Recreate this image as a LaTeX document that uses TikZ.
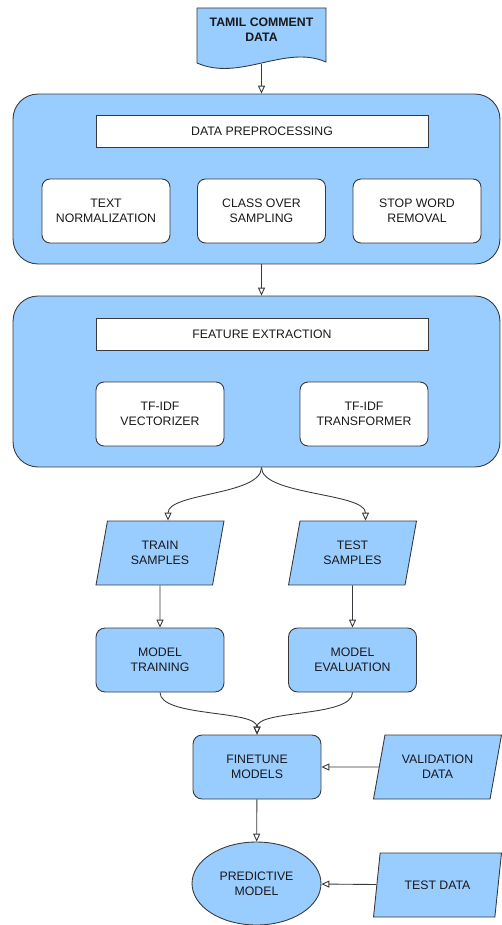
\documentclass[tikz,border=0pt]{standalone}
\usepackage{fontspec}
\setmainfont{Liberation Sans}
\usetikzlibrary{arrows.meta}
\usetikzlibrary{shapes.geometric}
\usetikzlibrary{calc}

\definecolor{boxblue}{HTML}{99CCFF}
\definecolor{boxline}{HTML}{36393D}

\begin{document}
\begin{tikzpicture}[>={Triangle[open,length=4.5pt,width=4pt]}, x=0.02cm, y=-0.02cm, line width=0.5pt,
    every node/.style = {font=\fontsize{7}{8.5}\selectfont, align=center, text=black!90},
    container/.style = {draw=boxline, fill=boxblue, rounded corners=0.5cm, minimum width=9.74cm, minimum height=3.4cm},
    titlebar/.style = {draw=boxline, fill=white, minimum width=6.64cm, minimum height=0.64cm},
    stepbox/.style = {draw=boxline, fill=white, rounded corners=0.16cm, minimum width=2.56cm, minimum height=1.28cm},
    process/.style = {draw=boxline, fill=boxblue, rounded corners=0.18cm, minimum width=2.56cm, minimum height=1.28cm},
    dataio/.style = {draw=boxline, fill=boxblue, trapezium, trapezium left angle=72, trapezium right angle=108,
        trapezium stretches body, minimum width=2.56cm, minimum height=1.28cm, inner xsep=0pt},
    flow/.style = {->, draw=boxline}]

    \useasboundingbox (0,0) rectangle (501,925);

    % input document
    \draw[draw=boxline, fill=boxblue] (197,8) -- (326,8) -- (326,62) .. controls (285,44) and (240,82) .. (197,63) -- cycle;
    \node[font=\fontsize{7}{8.5}\selectfont\bfseries] (doc) at (261.5,30) {TAMIL COMMENT\\DATA};
    \coordinate (docout) at (261.5,64);

    \node[container] (prep) at (256.5,179) {};
    \node[titlebar] (prept) at (262,131) {DATA PREPROCESSING};
    \node[stepbox] (norm) at (106,211) {TEXT\\NORMALIZATION};
    \node[stepbox] (samp) at (261.5,211) {CLASS OVER\\SAMPLING};
    \node[stepbox] (stop) at (417,211) {STOP WORD\\REMOVAL};

    \node[container, minimum height=3.42cm] (feat) at (256.5,381.5) {};
    \node[titlebar] (featt) at (262,334) {FEATURE EXTRACTION};
    \node[stepbox] (vect) at (160,414) {TF-IDF\\VECTORIZER};
    \node[stepbox] (trans) at (364,414) {TF-IDF\\TRANSFORMER};

    \node[dataio] (train) at (160,553) {TRAIN\\SAMPLES};
    \node[dataio] (test) at (352.5,553) {TEST\\SAMPLES};
    \node[process] (mtrain) at (160,660) {MODEL\\TRAINING};
    \node[process] (meval) at (352.5,660) {MODEL\\EVALUATION};
    \node[process] (tune) at (257,767) {FINETUNE\\MODELS};
    \node[dataio] (valid) at (437.5,767) {VALIDATION\\DATA};
    \node[ellipse, draw=boxline, fill=boxblue, minimum width=2.58cm, minimum height=1.66cm] (pred) at (256.5,883.5) {PREDICTIVE\\MODEL};
    \node[dataio] (tdata) at (437.5,885) {TEST DATA};

    % connectors
    \draw[flow] (docout) -- (docout |- prep.north);
    \draw[flow] (docout |- prep.south) -- (docout |- feat.north);
    \draw[flow] (docout |- feat.south) .. controls +(0,28) and +(0,-28) .. ([xshift=0.16cm]train.north);
    \draw[flow] (docout |- feat.south) .. controls +(0,28) and +(0,-28) .. ([xshift=0.26cm]test.north);
    \draw[flow] (train) -- (mtrain);
    \draw[flow] (test) -- (meval);
    \draw[flow] (mtrain.south) .. controls +(0,25) and +(0,-25) .. (tune.north);
    \draw[flow] (meval.south) .. controls +(0,25) and +(0,-25) .. (tune.north);
    \draw[flow] (valid) -- (tune);
    \draw[flow] (tune) -- (pred);
    \draw[flow] (tdata) -- (pred);
\end{tikzpicture}
\end{document}
